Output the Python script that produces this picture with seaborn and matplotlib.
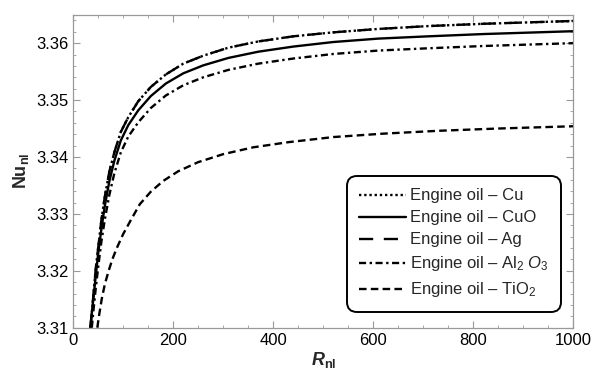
import numpy as np
import pandas as pd
import matplotlib
matplotlib.use("Agg")
import matplotlib.pyplot as plt
from matplotlib.ticker import MultipleLocator
import seaborn as sns

# ---- data ----
R_cu = [34, 36, 40, 45, 50, 56, 63, 72, 82, 95, 110, 130, 155, 185, 220, 260,
        310, 370, 440, 520, 610, 710, 820, 1000]
Nu_cu = [3.3100, 3.3115, 3.3155, 3.3205, 3.3242, 3.3288, 3.3330, 3.3374, 3.3408,
         3.3444, 3.3470, 3.3498, 3.3523, 3.3545, 3.3564, 3.3578, 3.3592, 3.3603,
         3.3612, 3.3619, 3.3625, 3.3630, 3.3634, 3.3639]
R_ag = R_cu
Nu_ag = Nu_cu
R_cuo = [34, 36, 40, 45, 50, 56, 63, 72, 82, 95, 110, 130, 155, 185, 220, 260,
         310, 370, 440, 520, 610, 710, 820, 1000]
Nu_cuo = [3.3100, 3.3118, 3.3150, 3.3192, 3.3232, 3.3272, 3.3314, 3.3357, 3.3393,
          3.3429, 3.3456, 3.3482, 3.3507, 3.3529, 3.3547, 3.3561, 3.3574, 3.3585,
          3.3594, 3.3602, 3.3608, 3.3612, 3.3616, 3.3621]
R_al = [37, 40, 45, 50, 56, 63, 72, 82, 95, 110, 130, 155, 185, 220, 260, 310,
        370, 440, 520, 610, 710, 820, 1000]
Nu_al = [3.3100, 3.3128, 3.3170, 3.3208, 3.3250, 3.3290, 3.3333, 3.3371, 3.3408,
         3.3436, 3.3461, 3.3486, 3.3508, 3.3526, 3.3540, 3.3553, 3.3564, 3.3573,
         3.3581, 3.3587, 3.3591, 3.3595, 3.3600]
R_ti = [48, 52, 57, 63, 70, 78, 87, 100, 115, 133, 155, 180, 210, 250, 300, 360,
        430, 520, 620, 730, 850, 1000]
Nu_ti = [3.3100, 3.3124, 3.3151, 3.3176, 3.3198, 3.3220, 3.3240, 3.3265, 3.3289,
         3.3317, 3.3339, 3.3358, 3.3375, 3.3391, 3.3405, 3.3417, 3.3426, 3.3435,
         3.3441, 3.3446, 3.3450, 3.3454]

labels = ["Engine oil – Cu", "Engine oil – CuO", "Engine oil – Ag",
          "Engine oil – Al$_2$ $O_3$", "Engine oil – TiO$_2$"]
xticks = [0, 200, 400, 600, 800, 1000]
yticks = [3.31, 3.32, 3.33, 3.34, 3.35, 3.36]

sns.set_style("ticks")
plt.rcParams["font.family"] = ["Liberation Sans", "DejaVu Sans"]
plt.rcParams["mathtext.fontset"] = "custom"
plt.rcParams["mathtext.rm"] = "Liberation Sans"
plt.rcParams["mathtext.it"] = "Liberation Sans:italic"
plt.rcParams["mathtext.bf"] = "Liberation Sans:bold"
plt.rcParams["mathtext.bfit"] = "Liberation Sans:bold:italic"

fig = plt.figure(figsize=(5.93, 3.75), dpi=100)
ax = fig.add_axes([0.1236, 0.1261, 0.8432, 0.8347])

series = [
    (R_cu, Nu_cu, labels[0], (0, (1.0, 1.2))),
    (R_cuo, Nu_cuo, labels[1], "-"),
    (R_ag, Nu_ag, labels[2], (0, (6.0, 4.5))),
    (R_al, Nu_al, labels[3], (0, (3.0, 1.5, 1.0, 1.5))),
    (R_ti, Nu_ti, labels[4], (0, (3.2, 1.8))),
]
for xs, ys, lab, ls in series:
    df = pd.DataFrame({"R": xs, "Nu": ys})
    sns.lineplot(data=df, x="R", y="Nu", ax=ax, color="black", lw=1.7,
                 linestyle=ls, label=lab, sort=False)

ax.set_xlim(0, 1000)
ax.set_ylim(3.31, 3.365)
ax.set_xticks(xticks)
ax.set_yticks(yticks)
ax.set_yticklabels([f"{v:.2f}" for v in yticks])
ax.xaxis.set_minor_locator(MultipleLocator(50))
ax.yaxis.set_minor_locator(MultipleLocator(0.002))
ax.tick_params(which="both", direction="in", top=True, right=True,
               color="#999999", labelsize=12, labelcolor="black")
ax.tick_params(which="major", length=5, width=0.8)
ax.tick_params(which="minor", length=2.5, width=0.6)
for s in ax.spines.values():
    s.set_color("#999999")
    s.set_linewidth(0.9)

ax.set_xlabel(r"$\mathbfit{R}_{\mathbf{nl}}$", fontsize=13, labelpad=2)
ax.set_ylabel(r"$\mathbf{Nu}_{\mathbf{nl}}$", fontsize=13, labelpad=4)

leg = ax.legend(loc="upper left", bbox_to_anchor=(0.547, 0.485), borderaxespad=0,
                fontsize=12, handlelength=2.8, handletextpad=0.25,
                labelspacing=0.42, borderpad=0.75, frameon=True, fancybox=True,
                framealpha=1)
fr = leg.get_frame()
fr.set_edgecolor("black")
fr.set_linewidth(1.4)
fr.set_boxstyle("round,pad=0,rounding_size=0.6")

fig.savefig("out.png", dpi=100)
